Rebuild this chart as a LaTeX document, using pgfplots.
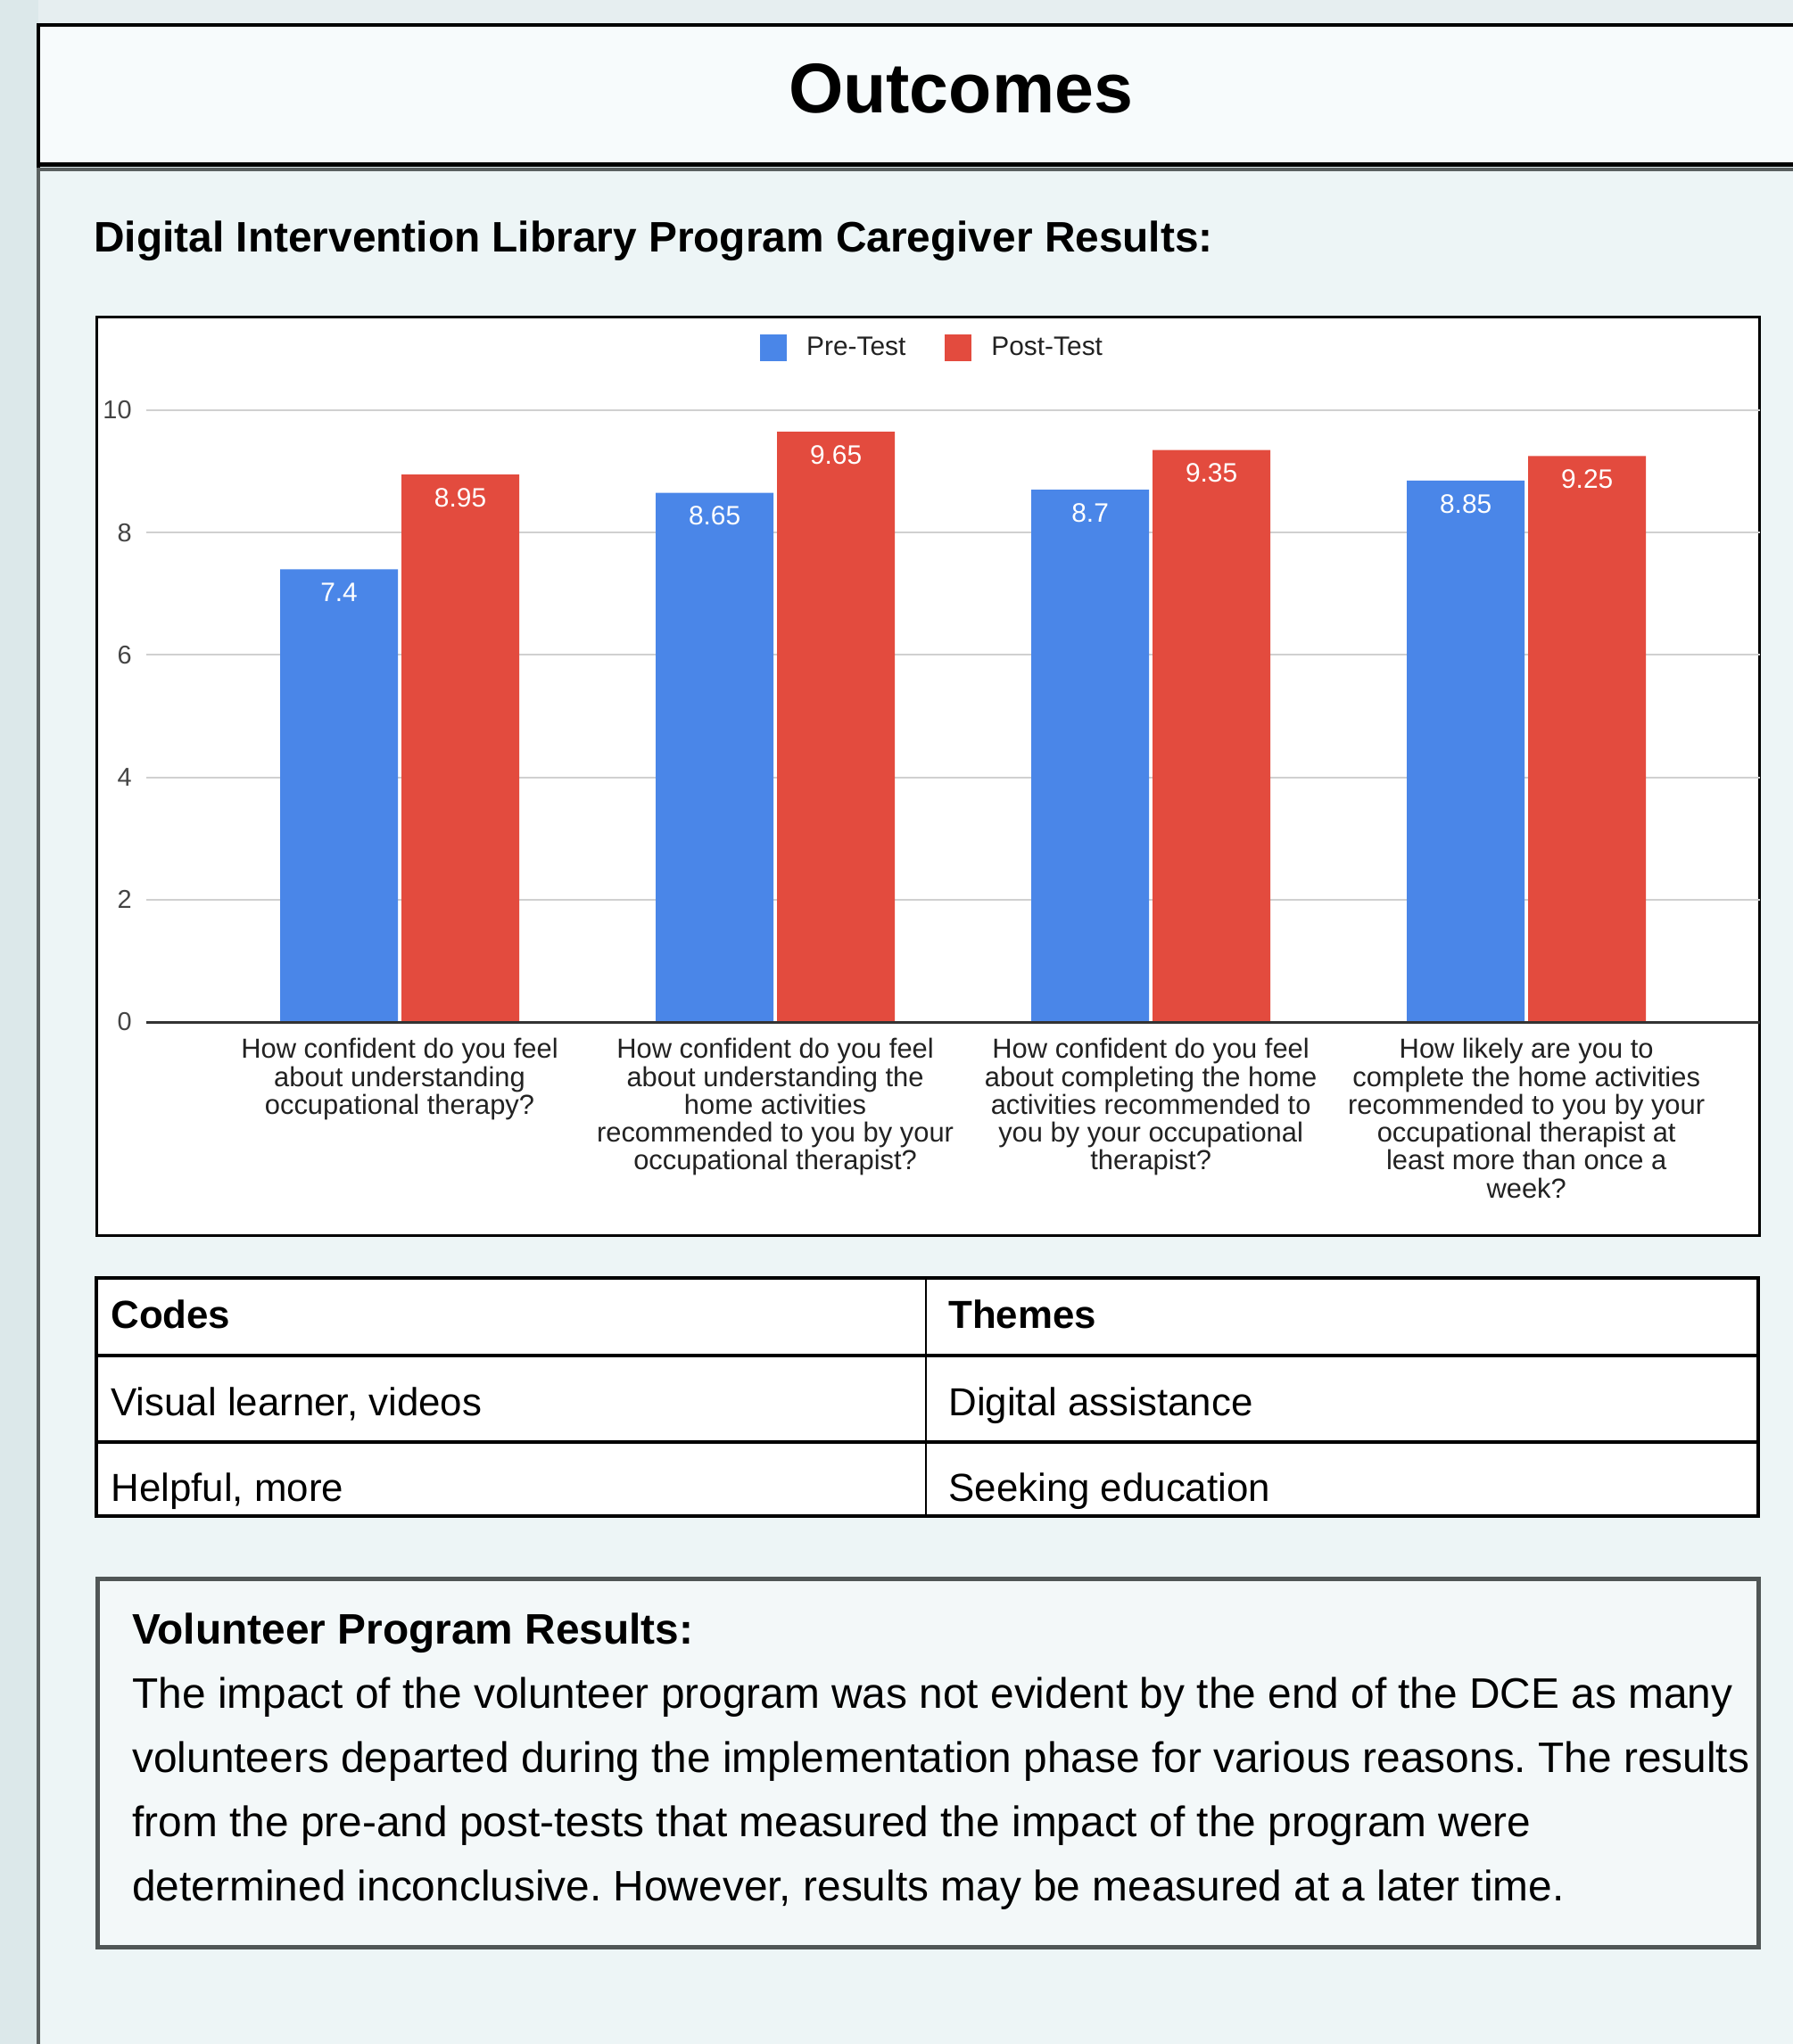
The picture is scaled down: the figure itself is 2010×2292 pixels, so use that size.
\documentclass[border=0pt]{standalone}
\usepackage{pgfplots}
\pgfplotsset{compat=1.18}
\usepackage{fontspec}
\setmainfont{Liberation Sans}
\frenchspacing
\definecolor{stripbg}{HTML}{DCE8EA}
\definecolor{panelbg}{HTML}{EDF5F6}
\definecolor{topbg}{HTML}{E6EEF0}
\definecolor{titlefill}{HTML}{F7FBFC}
\definecolor{boxfill}{HTML}{F3F8F9}
\definecolor{boxline}{HTML}{505656}
\definecolor{panelline}{HTML}{5A6060}
\definecolor{preblue}{HTML}{4A86E8}
\definecolor{postred}{HTML}{E34B3E}
\definecolor{gridgrey}{HTML}{D0D0D0}
\definecolor{ticktext}{HTML}{444444}
\definecolor{cattext}{HTML}{222222}
\newcommand\fs[2]{\fontsize{#1}{#2}\selectfont}
\begin{document}
\begin{tikzpicture}
\begin{scope}[x=0.5bp,y=-0.5bp]
\useasboundingbox (0,0) rectangle (2010,2292);
\fill[stripbg] (0,0) rectangle (2010,2292);
\fill[topbg] (43,0) rectangle (2010,28);
\fill[panelbg] (43,190) rectangle (2010,2292);
\draw[panelline, line width=2bp] (43,188) -- (43,2292);
% title box
\fill[titlefill] (43,28) rectangle (2010,185);
\draw[black, line width=2bp] (2012,28) -- (43,28) -- (43,188);
\draw[black, line width=2.5bp] (41,184.5) -- (2010,184.5);
\draw[panelline, line width=2bp] (41,189.5) -- (2010,189.5);
\node[anchor=base, inner sep=0pt, font=\fs{39.6}{44}\bfseries] at (1077,126) {Outcomes};
\node[anchor=base west, inner sep=0pt, font=\fs{24}{28}\bfseries] at (105,282) {Digital Intervention Library Program Caregiver Results:};
% chart box
\filldraw[fill=white, draw=black, line width=1.5bp] (108,355) rectangle (1972,1385);
% table
\fill[white] (108,1433) rectangle (1971,1700);
\draw[black, line width=1bp] (1038,1433) -- (1038,1700);
\draw[black, line width=2bp] (108,1520) -- (1971,1520);
\draw[black, line width=2bp] (108,1617) -- (1971,1617);
\draw[black, line width=2bp] (108,1433) rectangle (1971,1700);
\node[anchor=base west, inner sep=0pt, font=\fs{22}{26}\bfseries] at (124,1489) {Codes};
\node[anchor=base west, inner sep=0pt, font=\fs{22}{26}\bfseries] at (1063,1489) {Themes};
\node[anchor=base west, inner sep=0pt, font=\fs{22}{26}] at (124,1587) {Visual learner, videos};
\node[anchor=base west, inner sep=0pt, font=\fs{22}{26}] at (1063,1587) {Digital assistance};
\node[anchor=base west, inner sep=0pt, font=\fs{22}{26}] at (124,1683) {Helpful, more};
\node[anchor=base west, inner sep=0pt, font=\fs{22}{26}] at (1063,1683) {Seeking education};
% text box
\filldraw[fill=boxfill, draw=boxline, line width=2.5bp] (109,1770) rectangle (1971,2183);
\node[anchor=base west, inner sep=0pt, font=\fs{24}{28}\bfseries] at (148,1843) {Volunteer Program Results:};
\node[anchor=base west, inner sep=0pt, font=\fs{24}{28}] at (148,1915) {The impact of the volunteer program was not evident by the end of the DCE as many};
\node[anchor=base west, inner sep=0pt, font=\fs{24}{28}] at (148,1987) {volunteers departed during the implementation phase for various reasons. The results};
\node[anchor=base west, inner sep=0pt, font=\fs{24}{28}] at (148,2059) {from the pre-and post-tests that measured the impact of the program were};
\node[anchor=base west, inner sep=0pt, font=\fs{24}{28}] at (148,2131) {determined inconclusive. However, results may be measured at a later time.};
\end{scope}
\begin{axis}[
  at={(82bp,-573bp)}, anchor=south west,
  width=904.5bp, height=343bp, scale only axis,
  xmin=-0.6746, xmax=3.622, ymin=0, ymax=10,
  enlargelimits=false, clip=false,
  axis line style={draw=none}, major tick length=0pt,
  ytick={0,2,4,6,8,10}, ymajorgrids,
  grid style={line width=1bp, color=gridgrey},
  xtick={0,1,2,3},
  xticklabels={
    {How confident do you feel\\about understanding\\occupational therapy?},
    {How confident do you feel\\about understanding the\\home activities\\recommended to you by your\\occupational therapist?},
    {How confident do you feel\\about completing the home\\activities recommended to\\you by your occupational\\therapist?},
    {How likely are you to\\complete the home activities\\recommended to you by your\\occupational therapist at\\least more than once a\\week?}},
  xticklabel style={font=\fs{15.5}{15.7}, align=center, text=cattext, anchor=north, inner sep=0pt, yshift=-9bp},
  yticklabel style={font=\fs{14.5}{16}, text=ticktext, anchor=east, inner sep=0pt, xshift=-8bp},
  /pgf/number format/assume math mode=true,
  ybar=2bp, bar width=66bp,
  nodes near coords={\pgfmathprintnumber[precision=2]{\pgfplotspointmeta}},
  nodes near coords style={font=\fs{15}{16}, text=white, anchor=north, inner sep=0pt, yshift=-7.5bp},
  legend style={at={(0.4876,1.102)}, anchor=center, draw=none, fill=none,
    legend columns=2, font=\fs{15}{16}, text=cattext,
    /tikz/every even column/.append style={column sep=20bp}},
  legend image code/.code={\fill[#1] (0bp,-7.5bp) rectangle (15bp,7.5bp);\path (24bp,0bp);},
]
\addplot[fill=preblue, draw=none] coordinates {(0,7.4) (1,8.65) (2,8.7) (3,8.85)};
\addplot[fill=postred, draw=none] coordinates {(0,8.95) (1,9.65) (2,9.35) (3,9.25)};
\legend{Pre-Test, Post-Test}
\draw[black!80, line width=1.5bp] (axis cs:-0.6746,0) -- (axis cs:3.622,0);
\end{axis}
\end{tikzpicture}
\end{document}
